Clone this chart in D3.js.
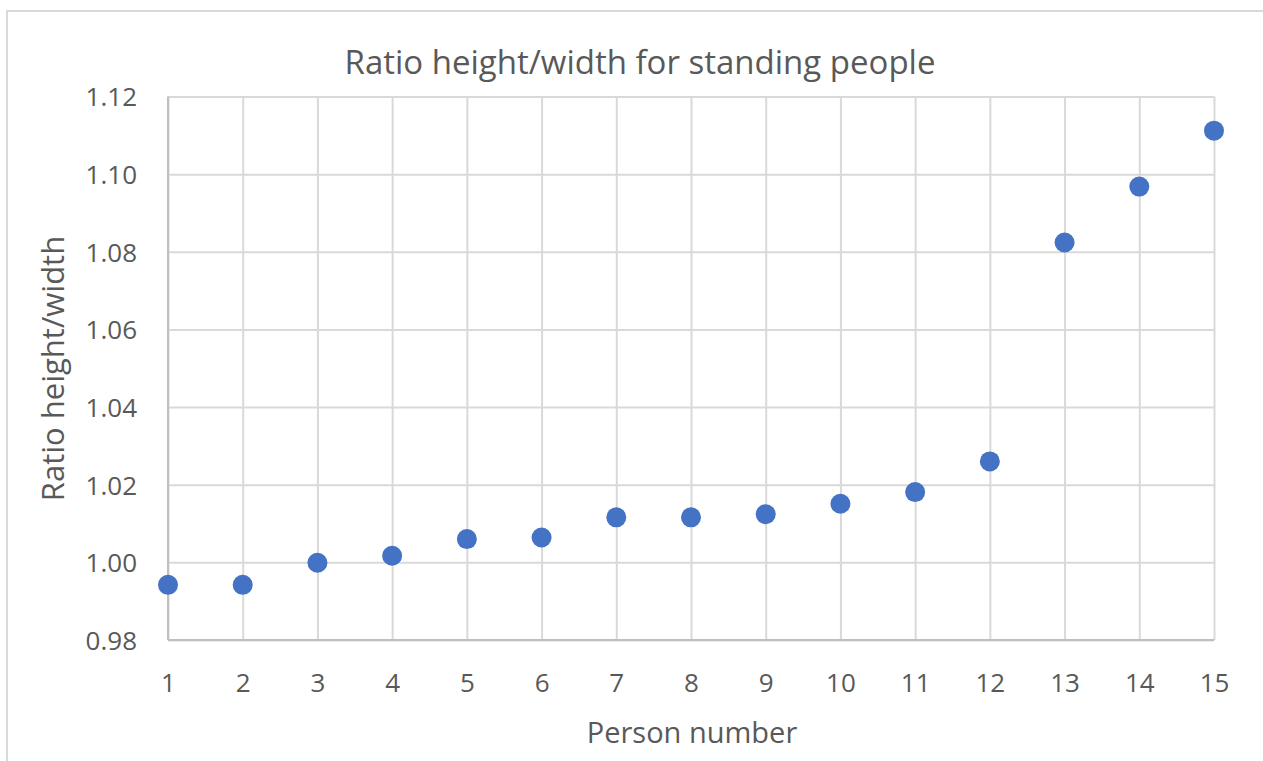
<!DOCTYPE html>
<html>
<head>
<meta charset="utf-8">
<script src="https://cdn.jsdelivr.net/npm/d3@7"></script>
<style>
  html, body { margin: 0; padding: 0; background: #fff; }
  svg { display: block; }
  text { font-family: "Open Sans", "Noto Sans", sans-serif; fill: #595959; }
</style>
</head>
<body>
<svg id="chart" width="1263" height="761"></svg>
<script>
const persons = [1, 2, 3, 4, 5, 6, 7, 8, 9, 10, 11, 12, 13, 14, 15];
const ratios = [0.9942, 0.9942, 0.9999, 1.0017, 1.0060, 1.0064, 1.0116, 1.0116, 1.0124, 1.0151, 1.0181, 1.0260, 1.0824, 1.0968, 1.1112];
const yTicks = [0.98, 1.00, 1.02, 1.04, 1.06, 1.08, 1.10, 1.12];
const xTicks = [1, 2, 3, 4, 5, 6, 7, 8, 9, 10, 11, 12, 13, 14, 15];
const chartTitle = "Ratio height/width for standing people";
const xTitle = "Person number";
const yTitle = "Ratio height/width";

(function () {
const svg = d3.select("#chart");
const W = 1263, H = 761;
const pL = 168, pR = 1214, pT = 96.5, pB = 640;
const font = "'Open Sans', 'Noto Sans', sans-serif";

// outer chart border
svg.append("rect")
  .attr("x", 7).attr("y", 11)
  .attr("width", W + 20).attr("height", H + 20)
  .attr("fill", "#fff").attr("stroke", "#d9d9d9").attr("stroke-width", 2);

const x = d3.scaleLinear().domain([1, 15]).range([pL, pR]);
const y = d3.scaleLinear().domain([0.98, 1.12]).range([pB, pT]);

// gridlines
const gx = svg.append("g").attr("transform", `translate(0,${pB})`)
  .call(d3.axisBottom(x).tickValues(xTicks).tickSize(-(pB - pT)).tickFormat(""));
gx.select(".domain").remove();
gx.selectAll("line").attr("stroke", "#d9d9d9").attr("stroke-width", 2);

const gy = svg.append("g").attr("transform", `translate(${pL},0)`)
  .call(d3.axisLeft(y).tickValues(yTicks).tickSize(-(pR - pL)).tickFormat(""));
gy.select(".domain").remove();
gy.selectAll("line").attr("stroke", "#d9d9d9").attr("stroke-width", 2);

// axis lines
svg.append("line").attr("x1", pL).attr("x2", pR).attr("y1", pB).attr("y2", pB)
  .attr("stroke", "#bfbfbf").attr("stroke-width", 2);
svg.append("line").attr("x1", pL).attr("x2", pL).attr("y1", pT).attr("y2", pB)
  .attr("stroke", "#bfbfbf").attr("stroke-width", 2);

// tick labels
const xl = svg.append("g").attr("transform", `translate(0,${pB})`)
  .call(d3.axisBottom(x).tickValues(xTicks).tickSize(0).tickPadding(0).tickFormat(d3.format("d")));
xl.select(".domain").remove();
xl.selectAll("text").attr("dy", null).attr("y", 52)
  .style("font-size", "26px").style("fill", "#595959").style("font-family", font);

const yl = svg.append("g").attr("transform", `translate(${pL},0)`)
  .call(d3.axisLeft(y).tickValues(yTicks).tickSize(0).tickPadding(0).tickFormat(d3.format(".2f")));
yl.select(".domain").remove();
yl.selectAll("text").attr("x", -31).attr("dy", "0.36em")
  .style("font-size", "26px").style("fill", "#595959").style("font-family", font);

// points
svg.append("g").selectAll("circle")
  .data(persons.map((p, i) => ({ p, r: ratios[i] })))
  .join("circle")
  .attr("cx", d => x(d.p)).attr("cy", d => y(d.r))
  .attr("r", 10).attr("fill", "#4472c4");

// titles
svg.append("text").attr("x", 640).attr("y", 74)
  .attr("text-anchor", "middle").style("font-size", "33px").text(chartTitle);

svg.append("text").attr("x", 692).attr("y", 743)
  .attr("text-anchor", "middle").style("font-size", "29px").text(xTitle);

svg.append("text").attr("transform", `translate(64,368.5) rotate(-90)`)
  .attr("text-anchor", "middle").style("font-size", "31px").text(yTitle);
})();
</script>
</body>
</html>
